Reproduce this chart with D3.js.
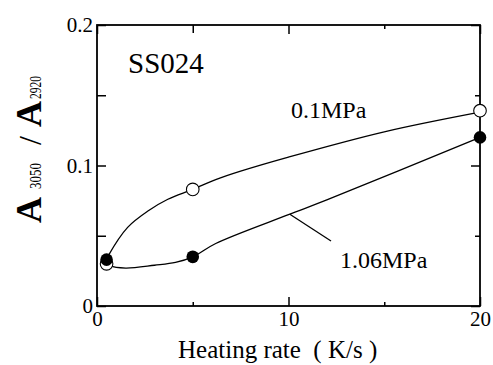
<!DOCTYPE html>
<html>
<head>
<meta charset="utf-8">
<script src="https://cdn.jsdelivr.net/npm/d3@7"></script>
<style>
  body { margin: 0; background: #fff; }
</style>
</head>
<body>
<div id="container"></div>
<script>
// measured points
const rates = [0.5, 5, 20]
const low = [0.030, 0.083, 0.139]    // 0.1MPa, open circles
const high = [0.033, 0.035, 0.120]   // 1.06MPa, filled circles

// fitted curves
const lowCurveX = [0.5, 0.6, 1.6, 2.7, 3.7, 5, 6.2, 7.5, 10, 15, 20]
const lowCurveY = [0.033, 0.036, 0.056, 0.068, 0.076, 0.083, 0.090, 0.096, 0.106, 0.124, 0.138]
const highCurveX = [0.5, 0.7, 1.5, 3, 4.1, 5, 6.2, 10, 12, 20]
const highCurveY = [0.031, 0.0285, 0.027, 0.029, 0.031, 0.035, 0.0445, 0.065, 0.0755, 0.120]

const xMajor = [0, 10, 20]
const xMinor = [5, 15]
const yMajor = [0, 0.1, 0.2]
const yMinor = [0.05, 0.15]

const W = 493, H = 365
const SERIF = "'Liberation Serif', 'DejaVu Serif', 'Times New Roman', serif"

const svg = d3.select("#container")
    .append("svg")
    .attr("width", W)
    .attr("height", H)
    .attr("font-family", SERIF)

const x = d3.scaleLinear().domain([0, 20]).range([97, 480])
const y = d3.scaleLinear().domain([0, 0.2]).range([306, 25])

const fmtY = d => d === 0 ? "0" : d.toFixed(1)

// ticks, all inward
const addAxis = (axis, tr) => {
    const g = svg.append("g").attr("transform", tr).call(axis)
    g.attr("font-family", SERIF).attr("font-size", 21)
    g.select(".domain").remove()
    g.selectAll("line").attr("stroke", "#000").attr("stroke-width", 1.5)
    g.selectAll("text").attr("fill", "#000")
    return g
}

addAxis(d3.axisBottom(x).tickValues(xMajor).tickSizeInner(-9).tickSizeOuter(0).tickPadding(5).tickFormat(d3.format("d")),
    `translate(0,${y(0)})`)
addAxis(d3.axisBottom(x).tickValues(xMinor).tickSizeInner(-4).tickSizeOuter(0).tickFormat(""),
    `translate(0,${y(0)})`)
addAxis(d3.axisTop(x).tickValues(xMajor).tickSizeInner(-9).tickSizeOuter(0).tickFormat(""),
    `translate(0,${y(0.2)})`)
addAxis(d3.axisTop(x).tickValues([5]).tickSizeInner(-8).tickSizeOuter(0).tickFormat(""),
    `translate(0,${y(0.2)})`)
addAxis(d3.axisTop(x).tickValues([15]).tickSizeInner(-4).tickSizeOuter(0).tickFormat(""),
    `translate(0,${y(0.2)})`)
addAxis(d3.axisLeft(y).tickValues(yMajor.concat(yMinor)).tickSizeInner(-9).tickSizeOuter(0).tickPadding(4)
    .tickFormat(d => yMajor.includes(d) ? fmtY(d) : ""),
    `translate(${x(0)},0)`)
addAxis(d3.axisRight(y).tickValues(yMajor).tickSizeInner(-9).tickSizeOuter(0).tickFormat(""),
    `translate(${x(20)},0)`)
addAxis(d3.axisRight(y).tickValues(yMinor).tickSizeInner(-5).tickSizeOuter(0).tickFormat(""),
    `translate(${x(20)},0)`)

// frame
svg.append("rect")
    .attr("x", x(0)).attr("y", y(0.2))
    .attr("width", x(20) - x(0)).attr("height", y(0) - y(0.2))
    .attr("fill", "none").attr("stroke", "#000").attr("stroke-width", 1.8)

// curves
const line = d3.line().x(d => x(d[0])).y(d => y(d[1])).curve(d3.curveCatmullRom.alpha(0.5))
svg.append("path")
    .datum(d3.zip(lowCurveX, lowCurveY))
    .attr("d", line).attr("fill", "none").attr("stroke", "#000").attr("stroke-width", 1.3)
svg.append("path")
    .datum(d3.zip(highCurveX, highCurveY))
    .attr("d", line).attr("fill", "none").attr("stroke", "#000").attr("stroke-width", 1.3)

// markers
svg.selectAll("circle.open")
    .data(d3.zip(rates, low))
    .enter().append("circle")
    .attr("class", "open")
    .attr("cx", d => x(d[0])).attr("cy", d => y(d[1]))
    .attr("r", 6.3)
    .attr("fill", "#fff").attr("stroke", "#000").attr("stroke-width", 1.1)
svg.selectAll("circle.full")
    .data(d3.zip(rates, high))
    .enter().append("circle")
    .attr("class", "full")
    .attr("cx", d => x(d[0])).attr("cy", d => y(d[1]))
    .attr("r", 6.3)
    .attr("fill", "#000")

// labels
svg.append("text").attr("x", 128).attr("y", 73).attr("font-size", 29).text("SS024")
svg.append("text").attr("x", 291).attr("y", 118).attr("font-size", 24).text("0.1MPa")
svg.append("text").attr("x", 340).attr("y", 268).attr("font-size", 24).text("1.06MPa")
svg.append("line")
    .attr("x1", x(10.07)).attr("y1", y(0.0653))
    .attr("x2", x(12.22)).attr("y2", y(0.0463))
    .attr("stroke", "#000").attr("stroke-width", 1.3)

// axis titles
svg.append("text")
    .attr("x", 178).attr("y", 358)
    .attr("font-size", 25)
    .attr("xml:space", "preserve")
    .text("Heating rate  ( K/s )")

const yt = svg.append("text")
    .attr("transform", "translate(41,223) rotate(-90)")
    .attr("text-anchor", "start")
yt.append("tspan").attr("font-size", 36).attr("font-weight", "bold").text("A")
yt.append("tspan").attr("dx", 8).attr("font-size", 16).attr("textLength", 26).attr("lengthAdjust", "spacingAndGlyphs").text("3050")
yt.append("tspan").attr("dx", 18).attr("font-size", 32).text("/")
yt.append("tspan").attr("dx", 9).attr("font-size", 36).attr("font-weight", "bold").text("A")
yt.append("tspan").attr("dx", 2).attr("font-size", 16).attr("textLength", 23).attr("lengthAdjust", "spacingAndGlyphs").text("2920")
</script>
</body>
</html>
